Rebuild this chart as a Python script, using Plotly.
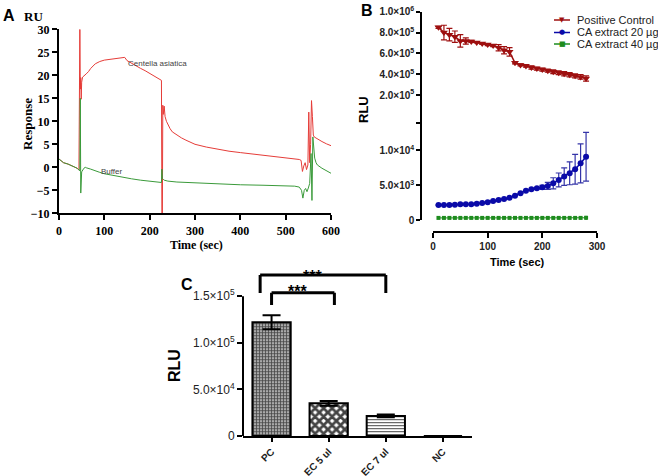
import plotly.graph_objects as go

W, H = 658, 476


def px(x):
    return x / W


def py(y):
    return 1 - y / H


# ---- panel A: SPR sensorgram (Response, RU) ----
a_time_ca = [0, 5, 10, 20, 30, 40, 44, 46, 47, 48, 49, 50, 52, 55, 60, 65, 70, 80, 90, 100,
             110, 120, 130, 140, 145, 150, 160, 170, 180, 190, 200, 210, 220, 226, 227, 228,
             229, 230, 232, 234, 237, 240, 245, 250, 260, 270, 280, 300, 325, 350, 375, 400,
             425, 450, 475, 500, 520, 530, 534, 537, 540, 543, 546, 549, 551, 553, 555, 557,
             559, 561, 563, 566, 570, 580, 590, 600]
a_ca = [1.8, 1.4, 1.0, 0.7, 0.3, -0.2, -0.6, 30, 17, 19.5, 14.8, 18.5, 19.6, 19.8, 20.3, 20.8,
        21.5, 22.5, 23.0, 23.3, 23.4, 23.5, 23.6, 23.8, 23.9, 23.2, 22.6, 22.0, 21.5, 21.0,
        20.4, 19.8, 19.3, 18.9, -10, -10, 13.5, 11.5, 13.3, 11.0, 10.0, 9.3, 8.4, 7.7, 7.0,
        6.4, 5.9, 5.0, 4.4, 3.9, 3.5, 3.2, 2.9, 2.6, 2.4, 2.1, 1.9, 1.7, 1.5, -0.9, 0.3, 1.0,
        -0.5, 0.5, 12.0, 1.0, 5.0, 14.5, 11.0, 7.0, 6.6, 6.4, 6.1, 5.6, 5.1, 4.7]

a_time_buf = [0, 5, 10, 20, 30, 40, 44, 46, 47, 48, 50, 52, 55, 58, 60, 70, 80, 90, 100, 120,
              140, 160, 180, 200, 220, 226, 227, 228, 230, 232, 236, 240, 260, 280, 300, 350,
              400, 450, 500, 520, 530, 535, 538, 541, 544, 547, 550, 553, 556, 558, 560, 562,
              564, 567, 570, 580, 590, 600]
a_buf = [1.8, 1.4, 1.0, 0.7, 0.3, -0.2, -0.6, -0.8, 15, -5.6, -1.0, -0.6, -0.2, 0.0, -0.1,
         -0.4, -0.8, -1.1, -1.4, -1.8, -2.2, -2.5, -2.8, -3.0, -3.2, -3.3, -0.4, -2.4, -2.6,
         -2.8, -2.9, -3.0, -3.2, -3.3, -3.4, -3.6, -3.8, -3.9, -4.0, -4.1, -4.3, -5.0, -6.7,
         -5.0, -4.6, -5.3, -4.5, -3.5, 3.0, -7.2, 6.6, 4.0, 2.0, 1.0, 0.5, -0.2, -0.8, -1.3]

# ---- panel B: luminescence over time (RLU) ----
b_time = [10, 20, 30, 40, 50, 60, 70, 80, 90, 100, 110, 120, 130, 140, 150, 160, 170, 180,
          190, 200, 210, 220, 230, 240, 250, 260, 270, 280]
b_pc = [850000, 800000, 780000, 760000, 720000, 720000, 715000, 705000, 695000, 685000,
        675000, 655000, 630000, 615000, 510000, 490000, 480000, 465000, 455000, 445000,
        435000, 425000, 415000, 405000, 395000, 385000, 375000, 360000]
b_pc_err = [10000, 70000, 60000, 55000, 60000, 30000, 10000, 5000, 8000, 10000, 10000, 30000,
            35000, 40000, 10000, 10000, 12000, 15000, 15000, 15000, 15000, 18000, 18000, 20000,
            20000, 20000, 22000, 25000]
b_ca20 = [2150, 2150, 2150, 2200, 2250, 2250, 2250, 2350, 2450, 2550, 2740, 2880, 3020, 3210,
          3500, 3840, 4220, 4420, 4560, 4700, 4900, 5280, 5760, 6240, 6720, 7300, 8150, 9100]
b_ca20_err = [0, 0, 0, 0, 0, 0, 0, 0, 0, 0, 0, 0, 0, 0, 0, 0, 0, 0, 100, 300, 500, 800, 1000,
              1250, 1650, 2150, 2800, 3500]
b_ca40 = [300, 300, 300, 300, 300, 300, 300, 300, 300, 300, 300, 300, 300, 300, 300, 300, 300,
          300, 300, 300, 300, 300, 300, 300, 300, 300, 300, 320]
b_ca40_err = [80, 80, 80, 80, 80, 80, 80, 80, 80, 80, 80, 80, 80, 80, 100, 100, 100, 100, 100,
              100, 100, 100, 100, 100, 100, 100, 120, 200]

# ---- panel C: bar chart ----
c_groups = ["PC", "EC 5 ul", "EC 7 ul", "NC"]
c_rlu = [122000, 35000, 21500, 0]
c_err = [7500, 2500, 1500, 0]

RED_B, BLUE_B, GREEN_B = "#9e0f0f", "#0a0aa8", "#1e8c1e"

fig = go.Figure()

# panel A
fig.add_trace(go.Scatter(x=a_time_ca, y=a_ca, mode="lines", line=dict(color="#e53c38", width=1),
                         xaxis="x", yaxis="y", hoverinfo="skip"))
fig.add_trace(go.Scatter(x=a_time_buf, y=a_buf, mode="lines", line=dict(color="#3a9a3a", width=1),
                         xaxis="x", yaxis="y", hoverinfo="skip"))

# panel B
fig.add_trace(go.Scatter(
    x=b_time, y=b_pc, mode="lines+markers", xaxis="x2", yaxis="y3",
    line=dict(color=RED_B, width=1.5),
    marker=dict(symbol="triangle-down", size=7, color=RED_B),
    error_y=dict(type="data", array=b_pc_err, color=RED_B, thickness=1.2, width=3)))
fig.add_trace(go.Scatter(
    x=b_time, y=b_ca20, mode="lines+markers", xaxis="x2", yaxis="y2",
    line=dict(color=BLUE_B, width=1.5),
    marker=dict(symbol="circle", size=6, color=BLUE_B),
    error_y=dict(type="data", array=b_ca20_err, color="#3434a8", thickness=1.2, width=3)))
fig.add_trace(go.Scatter(
    x=b_time, y=b_ca40, mode="lines+markers", xaxis="x2", yaxis="y2",
    line=dict(color=GREEN_B, width=1),
    marker=dict(symbol="square", size=4, color=GREEN_B),
    error_y=dict(type="data", array=b_ca40_err, color=GREEN_B, thickness=1, width=1)))

# panel C
fig.add_trace(go.Bar(
    x=c_groups, y=c_rlu, xaxis="x3", yaxis="y4", width=0.67,
    marker=dict(color=["#a8a8a8", "white", "white", "white"],
                line=dict(color="black", width=2),
                pattern=dict(shape=["+", "x", "-", ""], size=[3, 6, 3, 3],
                             solidity=[0.45, 0.7, 0.35, 0.3], fillmode="overlay", fgopacity=1,
                             fgcolor=["#3a3a3a", "#000000", "#555555", "#000000"])),
    error_y=dict(type="data", array=c_err, color="black", thickness=2, width=9)))

serif_b = dict(family="Liberation Serif, Times New Roman, serif", size=12, color="black", weight="bold")
sans_b = dict(family="Arial, Liberation Sans, sans-serif", size=10, color="#222222", weight="bold")
sans_c = dict(family="Arial, Liberation Sans, sans-serif", size=12, color="#222222")

common = dict(showgrid=False, zeroline=False, ticks="outside", linecolor="black",
              tickcolor="black", automargin=False)

fig.update_layout(
    width=W, height=H, autosize=False, margin=dict(l=0, r=0, t=0, b=0, autoexpand=False),
    paper_bgcolor="white", plot_bgcolor="rgba(0,0,0,0)", showlegend=False,
    xaxis=dict(domain=[px(59), px(331)], range=[0, 600], anchor="y",
               tickvals=[0, 100, 200, 300, 400, 500, 600], showline=True, linewidth=2,
               ticklen=5, tickwidth=2, tickfont=serif_b, **common),
    yaxis=dict(domain=[py(213.3), py(29.3)], range=[-10, 30], anchor="x",
               tickvals=[-10, -5, 0, 5, 10, 15, 20, 25, 30], showline=True, linewidth=2,
               ticklen=5, tickwidth=2, tickfont=serif_b, **common),
    xaxis2=dict(domain=[px(433), px(597)], range=[0, 300], anchor="free", position=py(232),
                tickvals=[0, 100, 200, 300], showline=True, linewidth=1.5, ticklen=5,
                tickwidth=1.5, tickfont=sans_b, **common),
    yaxis2=dict(domain=[py(220), py(116)], range=[0, 14960], anchor="free", position=px(421),
                tickvals=[0, 5000, 10000, 14000],
                ticktext=["0", "5.0×10<sup>3</sup>", "1.0×10<sup>4</sup>", ""],
                showline=True, linewidth=1.5, ticklen=4, tickwidth=1.5, tickfont=sans_b, **common),
    yaxis3=dict(domain=[py(116), py(11.7)], range=[0, 1000000], anchor="free", position=px(421),
                tickvals=[200000, 400000, 600000, 800000, 1000000],
                ticktext=["2.0×10<sup>5</sup>", "4.0×10<sup>5</sup>", "6.0×10<sup>5</sup>",
                          "8.0×10<sup>5</sup>", "1.0×10<sup>6</sup>"],
                showline=True, linewidth=1.5, ticklen=4, tickwidth=1.5, tickfont=sans_b, **common),
    xaxis3=dict(domain=[px(243), px(471.5)], range=[-0.5, 3.5], anchor="y4", tickangle=-45,
                showline=True, linewidth=2, ticklen=4, tickwidth=2,
                tickfont=dict(family="Arial, Liberation Sans, sans-serif", size=10,
                              color="#222222", weight="bold"), **common),
    yaxis4=dict(domain=[py(436), py(268.2)], range=[0, 180000], anchor="x3",
                tickvals=[0, 50000, 100000, 150000],
                ticktext=["0", "5.0×10<sup>4</sup>", "1.0×10<sup>5</sup>", "1.5×10<sup>5</sup>"],
                showline=False, ticklen=5, tickwidth=2, tickfont=sans_c, **common),
)

shapes = [
    # panel C y axis line (stops at 1.5e5 like the original)
    dict(type="line", xref="x3 domain", yref="y4", x0=0, x1=0, y0=0, y1=150000,
         line=dict(color="black", width=2)),
]
# significance brackets
for x0, x1, top, foot in [(-0.2, 2.0, 172700, 153400), (0.0, 1.1, 153700, 140600)]:
    for sx0, sx1, sy0, sy1 in [(x0, x0, foot, top), (x0, x1, top, top), (x1, x1, top, foot)]:
        shapes.append(dict(type="line", xref="x3", yref="y4", x0=sx0, x1=sx1, y0=sy0, y1=sy1,
                           line=dict(color="black", width=3)))

annotations = []


def note(text, x, y, font, angle=0, xanchor="center"):
    annotations.append(dict(text=text, x=px(x), y=py(y), xref="paper", yref="paper",
                            showarrow=False, textangle=angle, xanchor=xanchor,
                            yanchor="middle", font=font))


# manual legend for panel B (tight row spacing)
legend_rows = [("Positive Control", RED_B, "▼", 20), ("CA extract 20 µg", BLUE_B, "●", 32.5),
               ("CA extract 40 µg", GREEN_B, "■", 44)]
for label, col, sym, yy in legend_rows:
    shapes.append(dict(type="line", xref="paper", yref="paper", x0=px(554), x1=px(570),
                       y0=py(yy), y1=py(yy), line=dict(color=col, width=1.5)))
    note(sym, 562, yy, dict(size=7, color=col, family="DejaVu Sans"))
    note(label, 575, yy, dict(size=11, color="#222222", family="Arial, Liberation Sans"),
         xanchor="left")

panel_font = dict(family="Arial, Liberation Sans, sans-serif", size=16, color="black", weight="bold")
note("A", 9, 15, panel_font)
note("B", 367, 10, panel_font)
note("C", 187, 284, panel_font)

serif_t = dict(family="Liberation Serif, Times New Roman, serif", size=13, color="black", weight="bold")
note("RU", 33, 17, serif_t)
note("Response", 28, 124, serif_t, angle=-90)
note("Time (sec)", 196, 245, dict(serif_t, size=12))
note("Centella asiatica", 157, 64, dict(family="Arial, Liberation Sans", size=8, color="#444444"))
note("Buffer", 112, 171, dict(family="Arial, Liberation Sans", size=8, color="#444444"))

sans_t = dict(family="Arial, Liberation Sans, sans-serif", size=13, color="black", weight="bold")
note("RLU", 363, 110, sans_t, angle=-90)
note("Time (sec)", 517, 262, dict(sans_t, size=11))
note("RLU", 174, 366, dict(sans_t, size=16), angle=-90)

star_font = dict(family="Arial, Liberation Sans, sans-serif", size=16, color="black", weight="bold")
annotations.append(dict(text="***", x=0.72, y=170600, xref="x3", yref="y4", showarrow=False,
                        yanchor="middle", font=star_font))
annotations.append(dict(text="***", x=0.46, y=154500, xref="x3", yref="y4", showarrow=False,
                        yanchor="middle", font=star_font))

fig.update_layout(shapes=shapes, annotations=annotations)

# the page's default 8px body margin would push the fixed-size figure off the window
fig.write_html("out.html", config={"displayModeBar": False},
               post_script="document.body.style.margin = '0px';")
